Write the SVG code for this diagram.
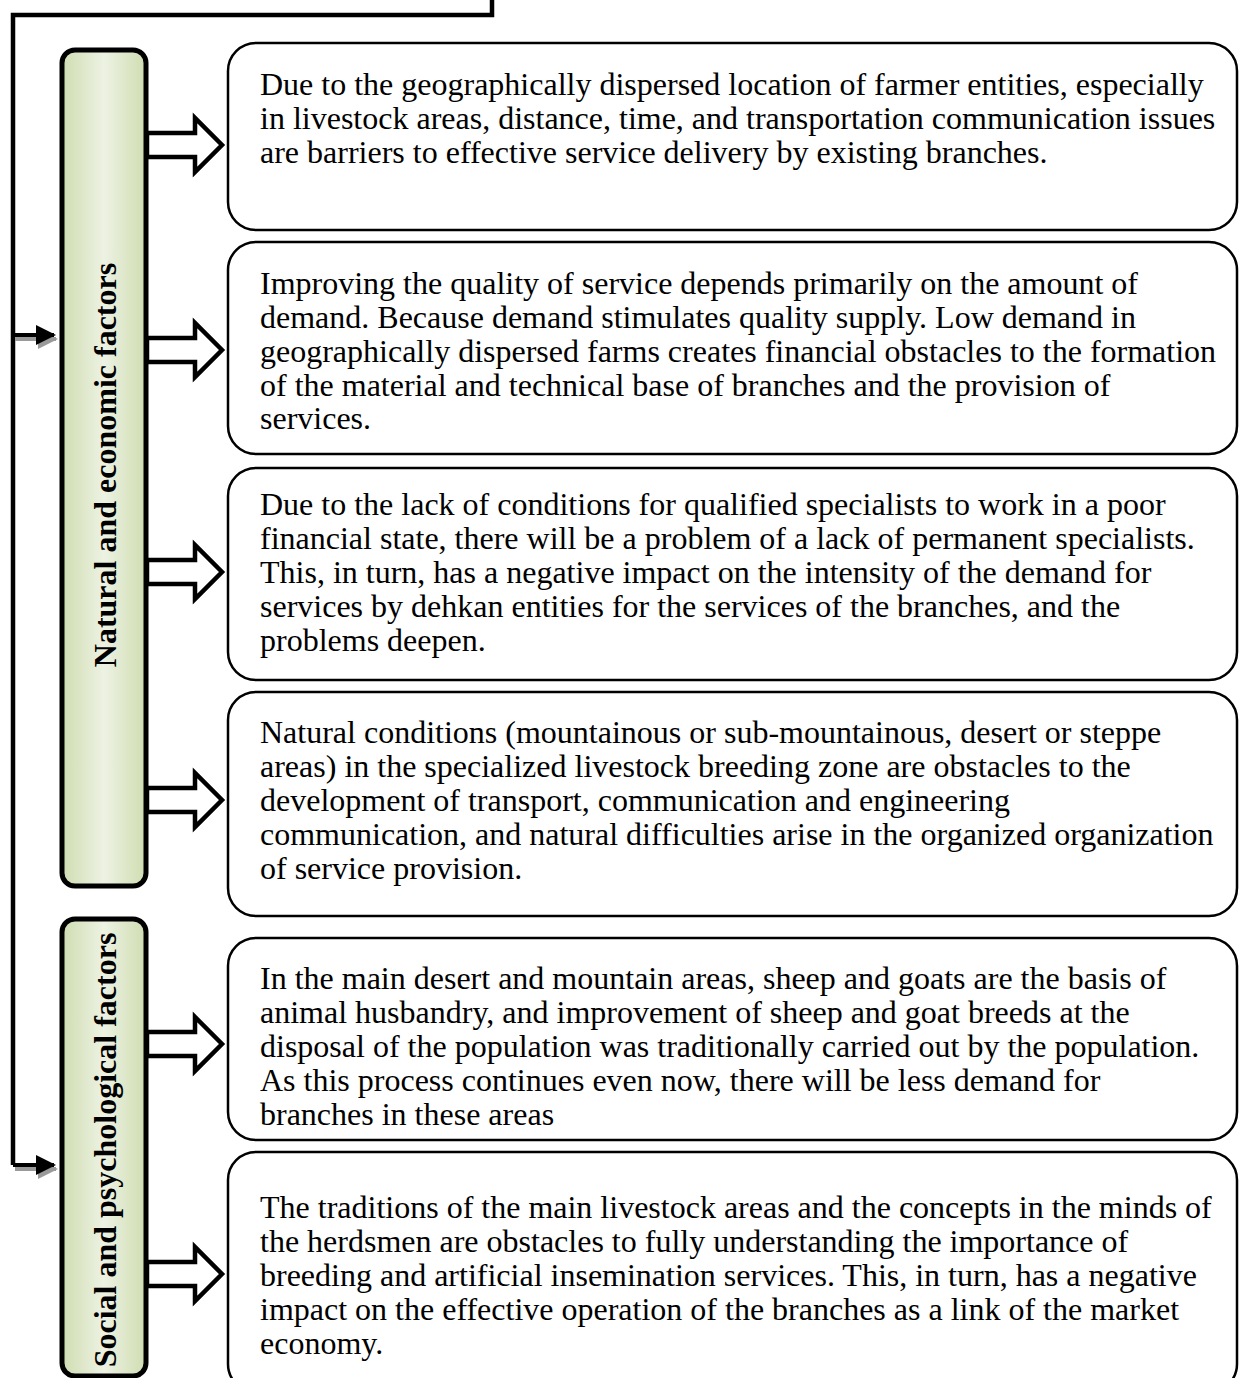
<svg xmlns="http://www.w3.org/2000/svg" width="1239" height="1378" viewBox="0 0 1239 1378">
<defs>
<linearGradient id="barGrad" x1="0" y1="0" x2="1" y2="0">
<stop offset="0" stop-color="#cfddb1"/>
<stop offset="0.5" stop-color="#edf2e3"/>
<stop offset="1" stop-color="#cfddb1"/>
</linearGradient>
<marker id="smallHead" markerWidth="5" markerHeight="5" refX="4.5" refY="2.5" orient="auto" markerUnits="strokeWidth">
<path d="M0,0 L5,2.5 L0,5 Z" fill="#000"/>
</marker>
<marker id="shadowHead" markerWidth="5" markerHeight="5" refX="4.5" refY="2.5" orient="auto" markerUnits="strokeWidth">
<path d="M0,0 L5,2.5 L0,5 Z" fill="#9a9a9a"/>
</marker>
<path id="bigArrow" d="M0,-12 L48,-12 L48,-27 L75,0 L48,27 L48,12 L0,12 Z"/>
</defs>
<style>
.bar{fill:url(#barGrad);stroke:#000;stroke-width:5}
.box{fill:#fff;stroke:#000;stroke-width:2.5}
.txt{font-family:"Liberation Serif","Times New Roman",serif;font-size:32px;fill:#000}
.vlabel{font-family:"Liberation Serif","Times New Roman",serif;font-size:32px;font-weight:bold;fill:#000}
.line{fill:none;stroke:#000;stroke-width:4.5}
.arr{fill:#fff;stroke:#000;stroke-width:4.5;stroke-linejoin:miter}
</style>
<rect width="1239" height="1378" fill="#fff"/>

<g id="connectors">
<polyline class="line" points="492,0 492,15 13,15 13,1165"/>
<line x1="15" y1="339" x2="56" y2="339" stroke="#9a9a9a" stroke-width="4" marker-end="url(#shadowHead)"/>
<line x1="13" y1="335" x2="54" y2="335" stroke="#000" stroke-width="4" marker-end="url(#smallHead)"/>
<line x1="15" y1="1169" x2="56" y2="1169" stroke="#9a9a9a" stroke-width="4" marker-end="url(#shadowHead)"/>
<line x1="13" y1="1165" x2="54" y2="1165" stroke="#000" stroke-width="4" marker-end="url(#smallHead)"/>
<use href="#bigArrow" class="arr" x="147" y="145"/>
<use href="#bigArrow" class="arr" x="147" y="350"/>
<use href="#bigArrow" class="arr" x="147" y="572"/>
<use href="#bigArrow" class="arr" x="147" y="800"/>
<use href="#bigArrow" class="arr" x="147" y="1044"/>
<use href="#bigArrow" class="arr" x="147" y="1274"/>
</g>

<g id="bar-natural">
<rect class="bar" x="62" y="50" width="84" height="836" rx="13"/>
<text class="vlabel" transform="translate(116,465) rotate(-90)" text-anchor="middle">Natural and economic factors</text>
</g>

<g id="bar-social">
<rect class="bar" x="62" y="919" width="84" height="457" rx="13"/>
<text class="vlabel" transform="translate(116,1150) rotate(-90)" text-anchor="middle">Social and psychological factors</text>
</g>

<g id="box1">
<rect class="box" x="228" y="43" width="1009" height="187" rx="28"/>
<text class="txt" x="260" y="95">Due to the geographically dispersed location of farmer entities, especially</text>
<text class="txt" x="260" y="129">in livestock areas, distance, time, and transportation communication issues</text>
<text class="txt" x="260" y="163">are barriers to effective service delivery by existing branches.</text>
</g>

<g id="box2">
<rect class="box" x="228" y="242" width="1009" height="212" rx="28"/>
<text class="txt" x="260" y="294">Improving the quality of service depends primarily on the amount of</text>
<text class="txt" x="260" y="328">demand. Because demand stimulates quality supply. Low demand in</text>
<text class="txt" x="260" y="362">geographically dispersed farms creates financial obstacles to the formation</text>
<text class="txt" x="260" y="396">of the material and technical base of branches and the provision of</text>
<text class="txt" x="260" y="429">services.</text>
</g>

<g id="box3">
<rect class="box" x="228" y="468" width="1009" height="212" rx="28"/>
<text class="txt" x="260" y="515">Due to the lack of conditions for qualified specialists to work in a poor</text>
<text class="txt" x="260" y="549">financial state, there will be a problem of a lack of permanent specialists.</text>
<text class="txt" x="260" y="583">This, in turn, has a negative impact on the intensity of the demand for</text>
<text class="txt" x="260" y="617">services by dehkan entities for the services of the branches, and the</text>
<text class="txt" x="260" y="651">problems deepen.</text>
</g>

<g id="box4">
<rect class="box" x="228" y="692" width="1009" height="224" rx="28"/>
<text class="txt" x="260" y="743">Natural conditions (mountainous or sub-mountainous, desert or steppe</text>
<text class="txt" x="260" y="777">areas) in the specialized livestock breeding zone are obstacles to the</text>
<text class="txt" x="260" y="811">development of transport, communication and engineering</text>
<text class="txt" x="260" y="845">communication, and natural difficulties arise in the organized organization</text>
<text class="txt" x="260" y="879">of service provision.</text>
</g>

<g id="box5">
<rect class="box" x="228" y="938" width="1009" height="202" rx="28"/>
<text class="txt" x="260" y="989">In the main desert and mountain areas, sheep and goats are the basis of</text>
<text class="txt" x="260" y="1023">animal husbandry, and improvement of sheep and goat breeds at the</text>
<text class="txt" x="260" y="1057">disposal of the population was traditionally carried out by the population.</text>
<text class="txt" x="260" y="1091">As this process continues even now, there will be less demand for</text>
<text class="txt" x="260" y="1125">branches in these areas</text>
</g>

<g id="box6">
<rect class="box" x="228" y="1152" width="1009" height="240" rx="28"/>
<text class="txt" x="260" y="1218">The traditions of the main livestock areas and the concepts in the minds of</text>
<text class="txt" x="260" y="1252">the herdsmen are obstacles to fully understanding the importance of</text>
<text class="txt" x="260" y="1286">breeding and artificial insemination services. This, in turn, has a negative</text>
<text class="txt" x="260" y="1320">impact on the effective operation of the branches as a link of the market</text>
<text class="txt" x="260" y="1354">economy.</text>
</g>
</svg>
